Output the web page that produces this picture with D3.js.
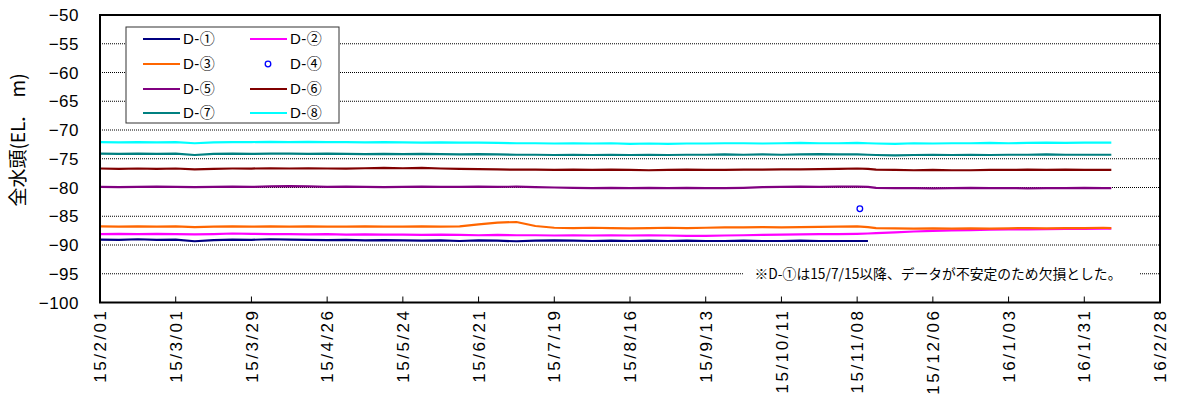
<!DOCTYPE html>
<html><head><meta charset="utf-8">
<script src="https://cdn.jsdelivr.net/npm/d3@7"></script>
<style>html,body{margin:0;padding:0;background:#fff;}svg{display:block;}</style>
</head><body>
<svg id="chart" width="1178" height="397"></svg>
<script>
// ---- data ----
const startDate = "2015-02-01";
const dayOffsets = [0,7,14,21,28,35,42,49,56,63,70,77,84,91,98,105,112,119,126,133,140,147,154,161,168,175,182,189,196,203,210,217,224,231,238,245,252,259,266,273,280,284,287,294,301,308,315,322,329,336,343,350,357,364,371,374];

const d1 = [-89.05,-89.1,-89.0,-89.1,-89.05,-89.35,-89.15,-89.05,-89.1,-89.0,
  -89.05,-89.1,-89.15,-89.1,-89.2,-89.15,-89.2,-89.25,-89.2,-89.3,
  -89.2,-89.25,-89.35,-89.25,-89.2,-89.25,-89.3,-89.25,-89.3,-89.25,
  -89.3,-89.25,-89.3,-89.3,-89.25,-89.3,-89.3,-89.25,-89.3,-89.3,
  -89.3,-89.3,
  null,null,null,null,null,null,null,null,null,null,null,null,null,null];
const d2 = [-88.1,-88.05,-88.1,-88.05,-88.1,-88.15,-88.1,-88.0,-88.05,-88.1,
  -88.1,-88.15,-88.1,-88.2,-88.15,-88.2,-88.2,-88.25,-88.2,-88.25,
  -88.3,-88.25,-88.3,-88.3,-88.35,-88.3,-88.35,-88.3,-88.35,-88.3,
  -88.35,-88.4,-88.4,-88.35,-88.3,-88.25,-88.2,-88.15,-88.1,-88.1,
  -88.05,-88.0,
  -87.95,-87.8,-87.65,-87.55,-87.45,-87.4,-87.35,-87.3,-87.3,-87.25,-87.2,-87.2,-87.15,-87.15];
const d3v = [-86.75,-86.8,-86.75,-86.8,-86.75,-86.9,-86.8,-86.75,-86.8,-86.75,
  -86.8,-86.75,-86.8,-86.8,-86.75,-86.8,-86.8,-86.75,-86.8,-86.75,
  -86.4,-86.1,-86.0,-86.7,-87.0,-87.05,-87.0,-87.05,-87.1,-87.05,
  -87.0,-87.05,-87.0,-86.95,-86.95,-86.9,-86.95,-86.9,-86.85,-86.8,
  -86.75,-86.9,
  -87.05,-87.1,-87.15,-87.1,-87.15,-87.1,-87.15,-87.1,-87.05,-87.1,-87.05,-87.05,-87.0,-87.05];
const d4Dates = ["2015-11-09"];
const d4 = [-83.7];
const d5 = [-79.9,-79.95,-79.9,-79.85,-79.9,-79.95,-79.9,-79.85,-79.9,-79.8,
  -79.75,-79.8,-79.9,-79.85,-79.9,-79.95,-79.9,-79.85,-79.9,-79.9,
  -79.85,-79.9,-79.85,-79.95,-80.0,-80.05,-80.1,-80.05,-80.1,-80.05,
  -80.1,-80.05,-80.1,-80.1,-80.05,-79.95,-79.9,-79.85,-79.9,-79.85,
  -79.85,-79.9,
  -80.05,-80.1,-80.1,-80.15,-80.1,-80.05,-80.1,-80.1,-80.15,-80.1,-80.1,-80.05,-80.1,-80.1];
const d6 = [-76.7,-76.75,-76.7,-76.75,-76.7,-76.85,-76.75,-76.7,-76.7,-76.65,
  -76.7,-76.65,-76.7,-76.7,-76.65,-76.6,-76.65,-76.6,-76.7,-76.75,
  -76.8,-76.85,-76.9,-76.9,-76.95,-76.9,-76.95,-76.9,-76.95,-77.0,
  -76.95,-76.9,-76.95,-76.95,-76.9,-76.9,-76.85,-76.85,-76.8,-76.75,
  -76.7,-76.75,
  -76.9,-76.95,-77.0,-76.95,-77.0,-77.0,-76.95,-76.95,-76.9,-76.95,-76.9,-76.95,-76.95,-76.95];
const d7 = [-74.1,-74.15,-74.1,-74.15,-74.1,-74.35,-74.15,-74.1,-74.15,-74.1,
  -74.1,-74.15,-74.1,-74.15,-74.2,-74.15,-74.2,-74.15,-74.2,-74.25,
  -74.2,-74.25,-74.3,-74.3,-74.35,-74.3,-74.35,-74.3,-74.35,-74.3,
  -74.35,-74.3,-74.3,-74.25,-74.3,-74.25,-74.3,-74.25,-74.2,-74.25,
  -74.25,-74.3,
  -74.35,-74.4,-74.35,-74.3,-74.35,-74.3,-74.35,-74.3,-74.3,-74.25,-74.3,-74.3,-74.3,-74.3];
const d8 = [-72.1,-72.15,-72.1,-72.15,-72.1,-72.3,-72.15,-72.1,-72.1,-72.05,
  -72.1,-72.05,-72.1,-72.1,-72.15,-72.1,-72.15,-72.2,-72.15,-72.2,
  -72.2,-72.25,-72.3,-72.3,-72.35,-72.3,-72.35,-72.3,-72.4,-72.35,
  -72.4,-72.35,-72.35,-72.3,-72.3,-72.35,-72.3,-72.25,-72.3,-72.3,
  -72.25,-72.3,
  -72.35,-72.4,-72.3,-72.35,-72.3,-72.3,-72.25,-72.3,-72.25,-72.2,-72.25,-72.2,-72.2,-72.2];

const seriesNames = ["D-①","D-②","D-③","D-④","D-⑤","D-⑥","D-⑦","D-⑧"];
const seriesColors = ["#000080","#FF00FF","#FF6600","#0000FF","#800080","#800000","#008080","#00FFFF"];

const xTickDates = ["2015-02-01","2015-03-01","2015-03-29","2015-04-26","2015-05-24","2015-06-21","2015-07-19","2015-08-16","2015-09-13","2015-10-11","2015-11-08","2015-12-06","2016-01-03","2016-01-31","2016-02-28"];
const xTickLabels = ["15/2/01","15/3/01","15/3/29","15/4/26","15/5/24","15/6/21","15/7/19","15/8/16","15/9/13","15/10/11","15/11/08","15/12/06","16/1/03","16/1/31","16/2/28"];
const yTicks = [-50,-55,-60,-65,-70,-75,-80,-85,-90,-95,-100];
const yTitle = "全水頭(EL.\u3000m)";
const note = "※D-①は15/7/15以降、データが不安定のため欠損とした。";

// ---- chart ----
const parse = d3.utcParse("%Y-%m-%d");
const t0 = parse(startDate);
const dates = dayOffsets.map(d => d3.utcDay.offset(t0, d));

const L = 100, R = 1160, T = 15, B = 302.5;
const svg = d3.select("#chart");
const x = d3.scaleUtc().domain([parse(xTickDates[0]), parse(xTickDates[xTickDates.length-1])]).range([L, R]);
const y = d3.scaleLinear().domain([-100, -50]).range([B, T]);

// gridlines
svg.append("g").selectAll("line").data(yTicks.filter(v => v > -100 && v < -50)).join("line")
  .attr("x1", L).attr("x2", R).attr("y1", d => y(d)).attr("y2", d => y(d))
  .attr("stroke", "#000").attr("stroke-width", 1).attr("stroke-dasharray", "1,1");

// y labels
svg.append("g").selectAll("text").data(yTicks).join("text")
  .attr("x", 79).attr("y", d => y(d)).attr("dy", "0.36em")
  .attr("text-anchor", "end")
  .style("font-family", "'Liberation Sans', Arial, sans-serif").style("font-size", "17px")
  .style("letter-spacing", "0.5px")
  .text(d => d3.format("")(d));

// x ticks (inward) and labels
const xt = svg.append("g");
xt.selectAll("line").data(xTickDates).join("line")
  .attr("x1", d => x(parse(d))).attr("x2", d => x(parse(d)))
  .attr("y1", B).attr("y2", B - 6).attr("stroke", "#000").attr("stroke-width", 1);
xt.selectAll("text").data(xTickDates).join("text")
  .attr("transform", d => `translate(${x(parse(d))},${B + 6}) rotate(-90)`)
  .attr("dy", "0.36em").attr("text-anchor", "end")
  .style("font-family", "'Liberation Sans', Arial, sans-serif").style("font-size", "17px")
  .style("letter-spacing", "2.5px")
  .text((d, i) => xTickLabels[i]);

// y title
svg.append("text")
  .attr("transform", "translate(18,140) rotate(-90)")
  .attr("text-anchor", "middle").attr("dy", "0.36em")
  .style("font-family", "'Noto Sans CJK JP', sans-serif").style("font-size", "19px")
  .text(yTitle);

// annotation
svg.append("rect").attr("x", 743).attr("y", y(-95) - 9).attr("width", 397).attr("height", 18).attr("fill", "#fff");
svg.append("text").attr("x", 938).attr("y", y(-95)).attr("dy", "0.36em")
  .attr("text-anchor", "middle")
  .style("font-family", "'Noto Sans CJK JP', sans-serif").style("font-size", "13.8px")
  .text(note);

// lines
const lineSeries = [d1, d2, d3v, null, d5, d6, d7, d8];
const lineGen = d3.line().defined(d => d.v !== null).x(d => x(d.t)).y(d => y(d.v));
const plot = svg.append("g");
lineSeries.forEach((vals, i) => {
  if (!vals) {
    plot.selectAll("circle.d4").data(d4).join("circle").attr("class", "d4")
      .attr("cx", (v, j) => x(parse(d4Dates[j]))).attr("cy", v => y(v)).attr("r", 2.8)
      .attr("fill", "none").attr("stroke", seriesColors[i]).attr("stroke-width", 1.3);
    return;
  }
  const data = vals.map((v, j) => ({t: dates[j], v: v}));
  plot.append("path").datum(data).attr("d", lineGen)
    .attr("fill", "none").attr("stroke", seriesColors[i]).attr("stroke-width", 2.2)
    .attr("stroke-linejoin", "round");
});

// frame
svg.append("rect").attr("x", L).attr("y", T).attr("width", R - L).attr("height", B - T)
  .attr("fill", "none").attr("stroke", "#000").attr("stroke-width", 2);

// legend
const lg = svg.append("g");
lg.append("rect").attr("x", 126).attr("y", 27).attr("width", 213).attr("height", 96)
  .attr("fill", "#fff").attr("stroke", "#333").attr("stroke-width", 1);
const rowY = [39, 64, 89, 113];
const colX = [143, 250];
seriesNames.forEach((name, i) => {
  const cx = colX[i % 2], cy = rowY[Math.floor(i / 2)];
  if (i === 3) {
    lg.append("circle").attr("cx", cx + 18).attr("cy", cy).attr("r", 2.8)
      .attr("fill", "none").attr("stroke", seriesColors[i]).attr("stroke-width", 1.3);
  } else {
    lg.append("line").attr("x1", cx).attr("x2", cx + 37).attr("y1", cy).attr("y2", cy)
      .attr("stroke", seriesColors[i]).attr("stroke-width", 2);
  }
  lg.append("text").attr("x", cx + 40).attr("y", cy).attr("dy", "0.36em")
    .style("font-family", "'Liberation Sans', 'Noto Sans CJK JP', sans-serif").style("font-size", "15px")
    .style("letter-spacing", "0.5px")
    .text(name);
});
</script>
</body></html>
